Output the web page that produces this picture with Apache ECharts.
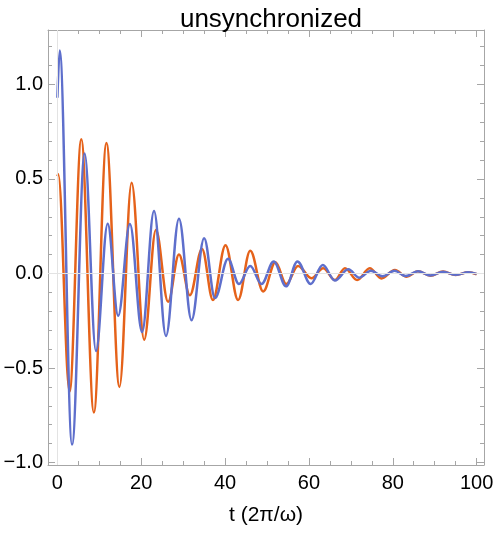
<!DOCTYPE html>
<html>
<head>
<meta charset="utf-8">
<script src="https://cdn.jsdelivr.net/npm/echarts@6/dist/echarts.min.js"></script>
<style>html,body{margin:0;padding:0;background:#fff}#c{width:498px;height:533px}</style>
</head>
<body>
<div id="c"></div>
<script>
// ---- data (extrema of each curve) ----
const orangeT = [0, 0.2, 2.9, 5.7, 8.7, 11.7, 14.8, 17.7, 20.7, 23.5, 26.4, 29.0, 31.6, 34.5, 37.1, 40.1, 43.1, 46.0, 49.1, 52.0, 54.6, 57.4, 60.6, 63.4, 66.2, 68.6, 71.5, 74.5, 77.3, 80.5, 83.3, 86.0, 89.0, 92.0, 95.0, 98.0, 100];
const orangeY = [0.515, 0.525, -0.625, 0.71, -0.735, 0.69, -0.60, 0.48, -0.35, 0.23, -0.15, 0.10, -0.115, 0.13, -0.14, 0.15, -0.14, 0.12, -0.095, 0.06, -0.055, 0.04, -0.025, 0.028, -0.035, 0.028, -0.035, 0.028, -0.026, 0.019, -0.017, 0.012, -0.012, 0.01, -0.008, 0.006, -0.004];
const blueT = [0, 0.55, 3.5, 6.5, 9.2, 12.0, 14.5, 17.3, 20.2, 23.05, 25.9, 29.0, 32.0, 35.0, 37.6, 40.7, 43.3, 46.0, 48.7, 51.6, 54.55, 57.25, 60.4, 63.3, 66.2, 69.4, 72.0, 74.8, 77.6, 80.4, 83.1, 86.0, 89.0, 92.0, 95.0, 98.0, 100];
const blueY = [0.93, 1.18, -0.905, 0.635, -0.41, 0.263, -0.224, 0.262, -0.31, 0.33, -0.33, 0.29, -0.247, 0.187, -0.13, 0.078, -0.055, 0.04, -0.055, 0.063, -0.068, 0.064, -0.055, 0.045, -0.037, 0.022, -0.022, 0.015, -0.015, 0.014, -0.013, 0.012, -0.01, 0.009, -0.007, 0.006, -0.002];
const xTicks = [0, 20, 40, 60, 80, 100];
const xMinorTicks = [5, 10, 15, 25, 30, 35, 45, 50, 55, 65, 70, 75, 85, 90, 95];
const yTicks = [-1.0, -0.5, 0.0, 0.5, 1.0];
const yMinorTicks = [-0.9, -0.8, -0.7, -0.6, -0.4, -0.3, -0.2, -0.1, 0.1, 0.2, 0.3, 0.4, 0.6, 0.7, 0.8, 0.9, 1.1, 1.2];
const titleText = 'unsynchronized';
const xName = 't (2π/ω)';

const X_MIN = -2.24, X_MAX = 101.76, Y_MIN = -1.013, Y_MAX = 1.288;
const FRAME = '#a6a6a6';
const FONT = '"Liberation Sans", Arial, sans-serif';

function mkX(pos, vals, len, main) {
  return {
    type: 'value', position: pos, min: X_MIN, max: X_MAX,
    axisLine: { show: main, onZero: false, lineStyle: { color: FRAME, width: 1 } },
    axisTick: { show: true, inside: true, length: len, customValues: vals, lineStyle: { color: FRAME, width: 1 } },
    axisLabel: main && pos === 'bottom'
      ? { show: true, customValues: vals, fontSize: 20, color: '#000', fontFamily: FONT, margin: 8 }
      : { show: false },
    splitLine: { show: false },
    name: main && pos === 'bottom' ? xName : '',
    nameLocation: 'middle', nameGap: 40,
    nameTextStyle: { fontSize: 21, color: '#000', fontFamily: FONT }
  };
}
function mkY(pos, vals, len, main) {
  return {
    type: 'value', position: pos, min: Y_MIN, max: Y_MAX,
    axisLine: { show: main, onZero: false, lineStyle: { color: FRAME, width: 1 } },
    axisTick: { show: true, inside: true, length: len, customValues: vals, lineStyle: { color: FRAME, width: 1 } },
    axisLabel: main && pos === 'left'
      ? { show: true, customValues: vals, fontSize: 20, color: '#000', fontFamily: FONT, margin: 5,
          formatter: v => (v < 0 ? '\u2212' : '') + Math.abs(v).toFixed(1) }
      : { show: false },
    splitLine: { show: false }
  };
}

const chart = echarts.init(document.getElementById('c'), null, { renderer: 'canvas' });
chart.setOption({
  animation: false,
  backgroundColor: '#fff',
  title: {
    text: titleText, left: 266, top: 2, textAlign: 'center',
    textStyle: { fontSize: 26, fontWeight: 'normal', color: '#000', fontFamily: FONT }
  },
  grid: { left: 48, right: 14, top: 30, bottom: 68, containLabel: false },
  xAxis: [
    mkX('bottom', xTicks, 7, true),
    mkX('bottom', xMinorTicks, 4, false),
    mkX('top', xTicks, 7, true),
    mkX('top', xMinorTicks, 4, false)
  ],
  yAxis: [
    mkY('left', yTicks, 7, true),
    mkY('left', yMinorTicks, 4, false),
    mkY('right', yTicks, 7, true),
    mkY('right', yMinorTicks, 4, false)
  ],
  series: [
    {
      type: 'line', data: [], z: 1, silent: true,
      markLine: {
        silent: true, symbol: 'none', label: { show: false },
        lineStyle: { color: '#e3e3e3', width: 1, type: 'solid' },
        data: [{ xAxis: 0 }, { yAxis: 0 }]
      }
    },
    {
      name: 'orange', type: 'line', z: 3,
      data: orangeT.map((t, i) => [t, orangeY[i]]),
      showSymbol: false, symbol: 'none',
      smooth: 0.36, smoothMonotone: 'x',
      lineStyle: { color: '#e5621a', width: 2.5 }
    },
    {
      name: 'blue', type: 'line', z: 4,
      data: blueT.map((t, i) => [t, blueY[i]]),
      showSymbol: false, symbol: 'none',
      smooth: 0.36, smoothMonotone: 'x',
      lineStyle: { color: '#5e6fcc', width: 2.5 }
    }
  ]
});
</script>
</body>
</html>
